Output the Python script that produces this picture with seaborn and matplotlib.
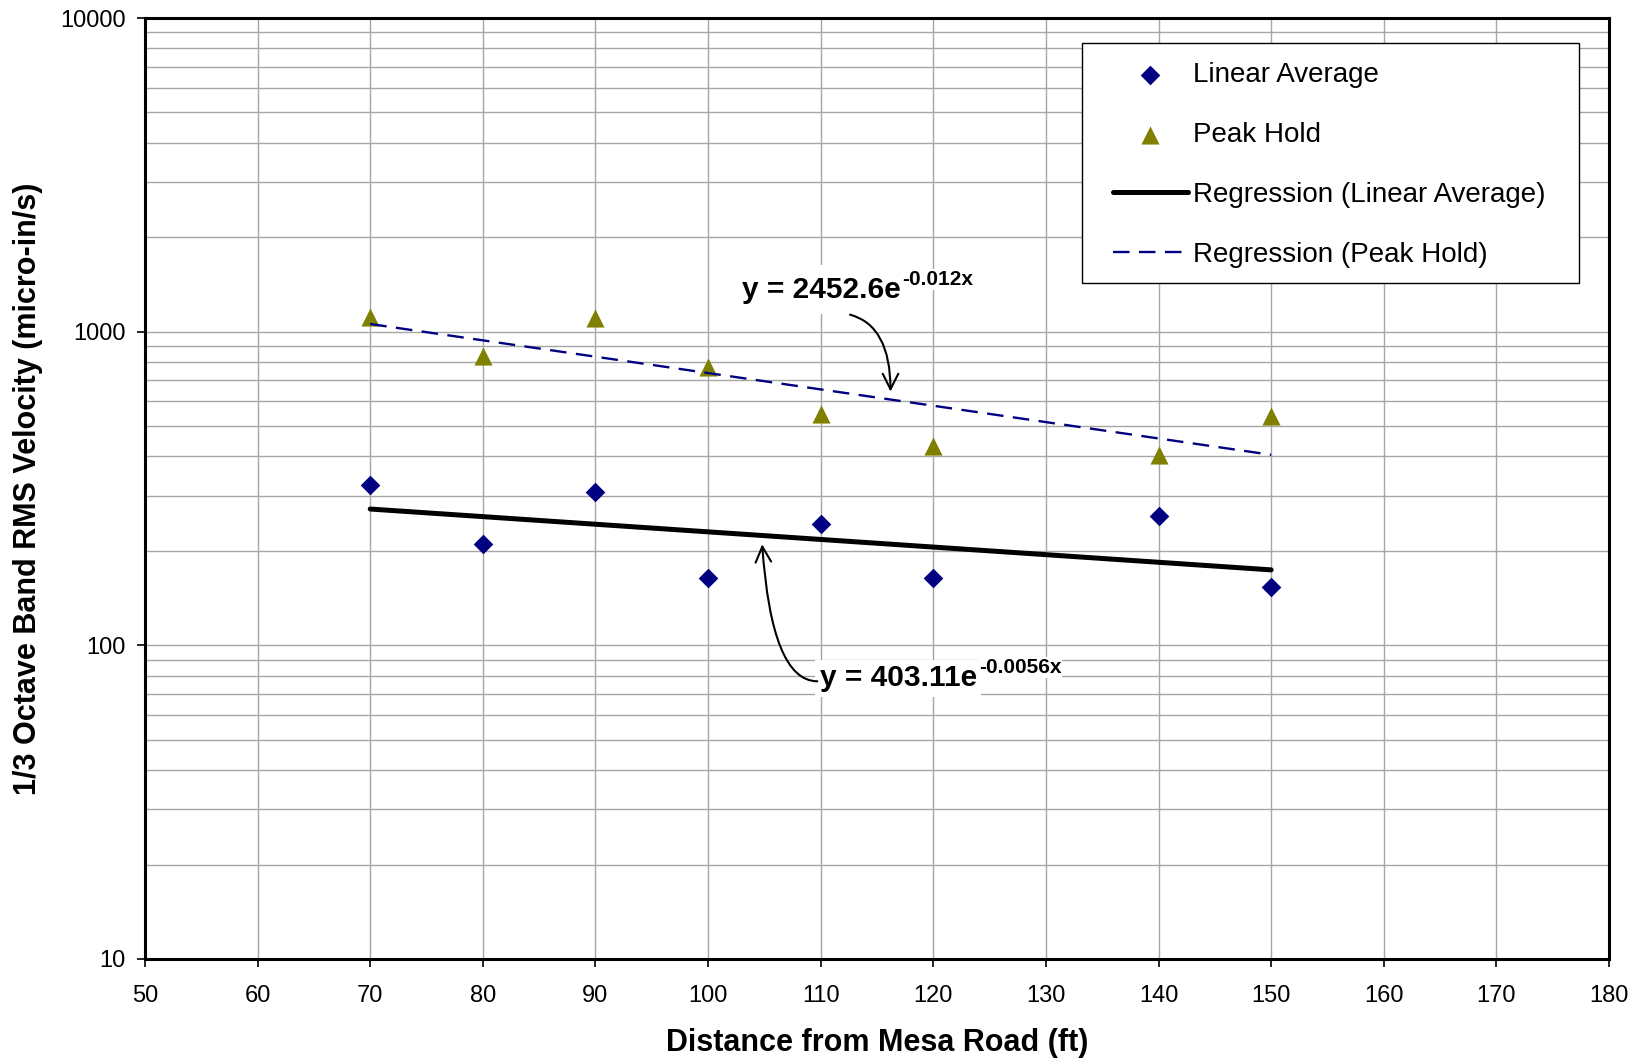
import matplotlib
matplotlib.use("Agg")
import matplotlib.pyplot as plt
import seaborn as sns
import pandas as pd
from matplotlib.ticker import LogLocator, NullFormatter
from matplotlib.patches import Rectangle

# ---- data ----
distance_ft = [70, 80, 90, 100, 110, 120, 140, 150]
linear_average = [325, 211, 308, 164, 243, 164, 258, 153]
peak_hold = [1114, 838, 1105, 770, 545, 432, 403, 540]
reg_x = [70, 150]
reg_linear_average = [272, 174]
reg_peak_hold = [1058, 405]
x_ticks = [50, 60, 70, 80, 90, 100, 110, 120, 130, 140, 150, 160, 170, 180]
y_ticks = [10, 100, 1000, 10000]
eq_peak_base, eq_peak_exp = "y = 2452.6e", "-0.012x"
eq_lin_base, eq_lin_exp = "y = 403.11e", "-0.0056x"
x_label = "Distance from Mesa Road (ft)"
y_label = "1/3 Octave Band RMS Velocity (micro-in/s)"

sns.set_style("white")
plt.rcParams["font.family"] = ["Liberation Sans", "DejaVu Sans"]
plt.rcParams["text.color"] = "black"
plt.rcParams["axes.labelcolor"] = "black"
plt.rcParams["xtick.color"] = "black"
plt.rcParams["ytick.color"] = "black"
plt.rcParams["xtick.labelcolor"] = "black"
plt.rcParams["ytick.labelcolor"] = "black"

pts = pd.DataFrame({"x": distance_ft, "lin": linear_average, "peak": peak_hold})
reg = pd.DataFrame({"x": reg_x, "lin": reg_linear_average, "peak": reg_peak_hold})

fig = plt.figure(figsize=(16.44, 10.60), dpi=100)
ax = fig.add_axes([0.0882, 0.0953, 0.8905, 0.8877])

sns.scatterplot(data=pts, x="x", y="lin", marker="D", s=100, color="#000080",
                edgecolor="#000080", linewidth=0, ax=ax, label="Linear Average", zorder=3)
sns.scatterplot(data=pts, x="x", y="peak", marker="^", s=170, color="#808000",
                edgecolor="#808000", linewidth=0, ax=ax, label="Peak Hold", zorder=3)
sns.lineplot(data=reg, x="x", y="lin", color="black", lw=3.6, ax=ax,
             label="Regression (Linear Average)", zorder=4)
sns.lineplot(data=reg, x="x", y="peak", color="#000080", lw=1.7,
             linestyle=(0, (7, 4)), ax=ax, label="Regression (Peak Hold)", zorder=4)

ax.set_yscale("log")
ax.set_xlim(50, 180)
ax.set_ylim(10, 10000)
ax.set_xticks(x_ticks, labels=[str(v) for v in x_ticks])
ax.set_yticks(y_ticks, labels=[str(v) for v in y_ticks])
ax.yaxis.set_minor_locator(LogLocator(base=10, subs=[2, 3, 4, 5, 6, 7, 8, 9]))
ax.yaxis.set_minor_formatter(NullFormatter())
ax.set_axisbelow(True)
ax.grid(which="major", axis="both", color="#a6a6a6", lw=1.0)
ax.grid(which="minor", axis="y", color="#a6a6a6", lw=1.0)
ax.tick_params(which="minor", length=0)
ax.tick_params(which="major", direction="out", length=6, width=1.2, color="black",
               labelcolor="black", labelsize=17, bottom=True, left=True)
ax.tick_params(axis="x", pad=13)
ax.tick_params(axis="y", pad=8)
for sp in ax.spines.values():
    sp.set_visible(True)
    sp.set_color("black")
    sp.set_linewidth(2.2)

ax.set_xlabel(x_label, fontsize=22, fontweight="bold", labelpad=15, color="black")
ax.set_ylabel(y_label, fontsize=22, fontweight="bold", labelpad=12, color="black")

# legend: frame drawn as a separate box, entries placed inside it
ax.add_patch(Rectangle((0.640, 0.718), 0.3395, 0.255, transform=ax.transAxes,
                       fc="white", ec="black", lw=1.0, zorder=4.5))
leg = ax.legend(loc="upper left", bbox_to_anchor=(0.6612, 0.953), borderaxespad=0,
                fontsize=20, frameon=False, handlelength=2.7, handletextpad=0.18,
                labelspacing=1.22, borderpad=0, scatterpoints=1, labelcolor="black")
leg.set_zorder(5)

# equation labels with arrows
def equation(x, y, base, exp, pad):
    t = ax.text(x, y, base, fontsize=21.5, fontweight="bold", ha="left", va="center",
                color="black", zorder=6,
                bbox=dict(boxstyle=f"square,pad={pad}", fc="white", ec="none"))
    ax.annotate(exp, xy=(1, 0), xycoords=t, xytext=(2, 19), textcoords="offset pixels",
                fontsize=15, fontweight="bold", ha="left", va="baseline", color="black",
                zorder=6.5, bbox=dict(boxstyle="square,pad=0.05", fc="white", ec="none"))
    return t

equation(103.0, 1361, eq_peak_base, eq_peak_exp, 0.35)
ax.annotate("", xy=(116.2, 644), xytext=(112.6, 1133), zorder=7,
            arrowprops=dict(arrowstyle="->", color="black", lw=1.5, shrinkA=0, shrinkB=0,
                            mutation_scale=28,
                            connectionstyle="angle3,angleA=-15,angleB=90"))
equation(109.9, 78.5, eq_lin_base, eq_lin_exp, 0.15)
ax.annotate("", xy=(104.8, 210), xytext=(109.7, 76.8), zorder=7,
            arrowprops=dict(arrowstyle="->", color="black", lw=1.5, shrinkA=0, shrinkB=0,
                            mutation_scale=28,
                            connectionstyle="angle3,angleA=180,angleB=94"))

fig.savefig("out.png", dpi=100, facecolor="white")
